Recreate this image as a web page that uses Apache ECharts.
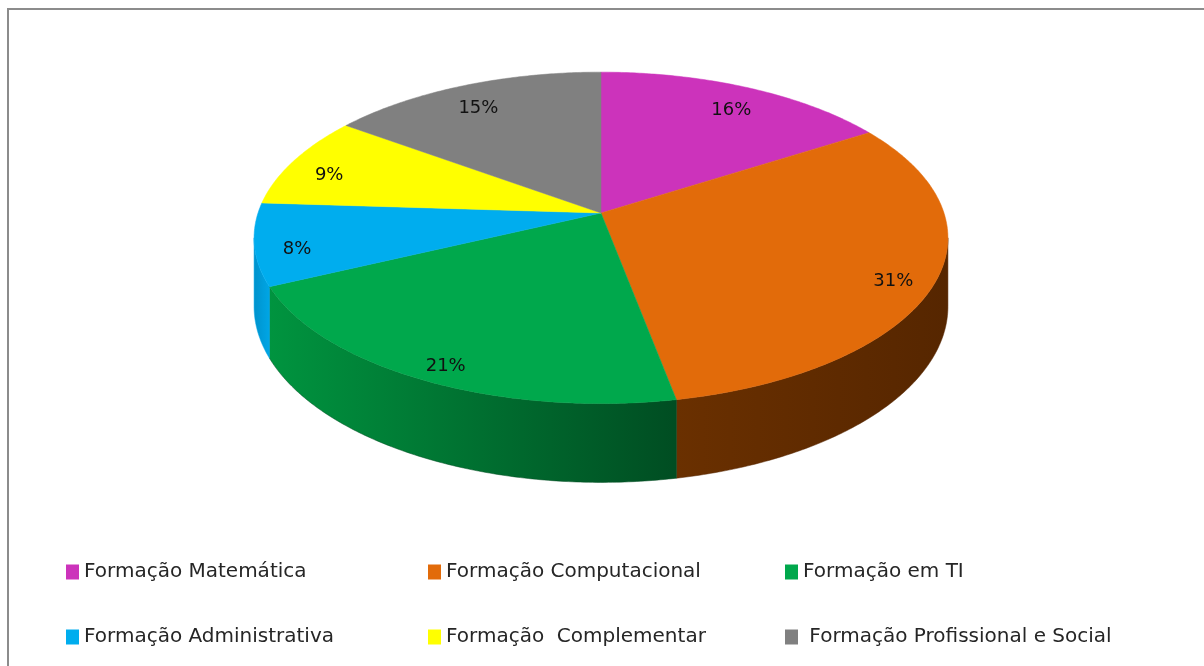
<!DOCTYPE html>
<html>
<head>
<meta charset="utf-8">
<script src="https://cdn.jsdelivr.net/npm/echarts@6/dist/echarts.min.js"></script>
<style>
  html, body {margin: 0; padding: 0; background: #fff;}
  #chart {width: 1204px; height: 666px;}
</style>
</head>
<body>
<div id="chart"></div>
<script>
const categories = ['Formação Matemática', 'Formação Computacional', 'Formação em TI',
    'Formação Administrativa', 'Formação  Complementar', ' Formação Profissional e Social'];
const values = [16, 31, 21, 8, 9, 15];

const topColors = ['#CC33BB', '#E26B0A', '#00A84C', '#00ADEE', '#FFFF00', '#808080'];
const sideColors = [
    ['#8a2280', '#6a1a60'],
    ['#6a3000', '#562600'],
    ['#00943f', '#004d22'],
    ['#0092cc', '#00a6e6'],
    ['#bcbc00', '#a0a000'],
    ['#606060', '#505050']
];

// projection of the tilted disk (fitted to the picture)
const CX = 601, CY = 213, KX = 343, KY = 162, P = 0.15, T = 67;
const proj = (a, r, d) => {
    const X = r * Math.sin(a), Z = r * Math.cos(a);
    const den = 1 + P * Z;
    return [CX + KX * X / den, CY - KY * Z / den + d * T / den];
};

const total = values.reduce((s, v) => s + v, 0);
const starts = [];
let acc = 0;
values.forEach(v => { starts.push(acc); acc += v; });
const angles = (i, v) => {
    const a0 = starts[i] / total * Math.PI * 2;
    return [a0, a0 + v / total * Math.PI * 2];
};
const arc = (a0, a1, d) => {
    const n = Math.max(2, Math.ceil((a1 - a0) / 0.01));
    const pts = [];
    for (let k = 0; k <= n; k++) pts.push(proj(a0 + (a1 - a0) * k / n, 1, d));
    return pts;
};

const tL = Math.acos(-P), tR = Math.PI * 2 - Math.acos(-P);

const chart = echarts.init(document.getElementById('chart'));
chart.setOption({
    color: topColors,
    animation: false,
    graphic: [{
        type: 'rect',
        shape: {x: 8, y: 9, width: 1400, height: 800},
        style: {fill: 'none', stroke: '#8c8c8c', lineWidth: 2},
        silent: true
    }],
    legend: categories.map((c, i) => ({
        data: [c],
        left: [66, 428, 785][i % 3],
        top: [562, 627][Math.floor(i / 3)],
        padding: 0,
        icon: 'rect',
        itemWidth: 13,
        itemHeight: 15,
        selectedMode: false,
        textStyle: {fontFamily: 'DejaVu Sans', fontSize: 20, color: '#262626'}
    })),
    series: [
        {
            // only used to feed the legend
            type: 'pie',
            radius: [0, 0],
            center: [CX, CY],
            silent: true,
            label: {show: false},
            labelLine: {show: false},
            data: categories.map((c, i) => ({name: c, value: values[i]}))
        },
        {
            type: 'custom',
            coordinateSystem: 'none',
            silent: true,
            z: 2,
            data: values.map(v => [v]),
            renderItem(params, api) {
                const i = params.dataIndex;
                const [a0, a1] = angles(i, api.value(0));
                const b0 = Math.max(a0, tL), b1 = Math.min(a1, tR);
                if (b1 <= b0) return {type: 'group', children: []};
                const points = arc(b0, b1, 0).concat(arc(b0, b1, 1).reverse());
                return {
                    type: 'polygon',
                    shape: {points},
                    style: {
                        fill: new echarts.graphic.LinearGradient(0, 0, 1, 0, [
                            {offset: 0, color: sideColors[i][0]},
                            {offset: 1, color: sideColors[i][1]}
                        ]),
                        stroke: sideColors[i][1],
                        lineWidth: 0.5
                    }
                };
            }
        },
        {
            type: 'custom',
            coordinateSystem: 'none',
            silent: true,
            z: 3,
            data: values.map(v => [v]),
            renderItem(params, api) {
                const i = params.dataIndex;
                const [a0, a1] = angles(i, api.value(0));
                const points = [proj(0, 0, 0)].concat(arc(a0, a1, 0));
                return {
                    type: 'polygon',
                    shape: {points},
                    style: {fill: topColors[i], stroke: topColors[i], lineWidth: 0.5}
                };
            }
        },
        {
            type: 'custom',
            coordinateSystem: 'none',
            silent: true,
            z: 4,
            data: values.map(v => [v]),
            renderItem(params, api) {
                const i = params.dataIndex;
                const v = api.value(0);
                const [a0, a1] = angles(i, v);
                const p = proj((a0 + a1) / 2, 0.88, 0);
                return {
                    type: 'text',
                    x: p[0],
                    y: p[1] + 9,
                    style: {
                        text: v + '%',
                        fill: '#111',
                        font: '18px "DejaVu Sans"',
                        align: 'center',
                        verticalAlign: 'middle'
                    }
                };
            }
        }
    ]
});
</script>
</body>
</html>
